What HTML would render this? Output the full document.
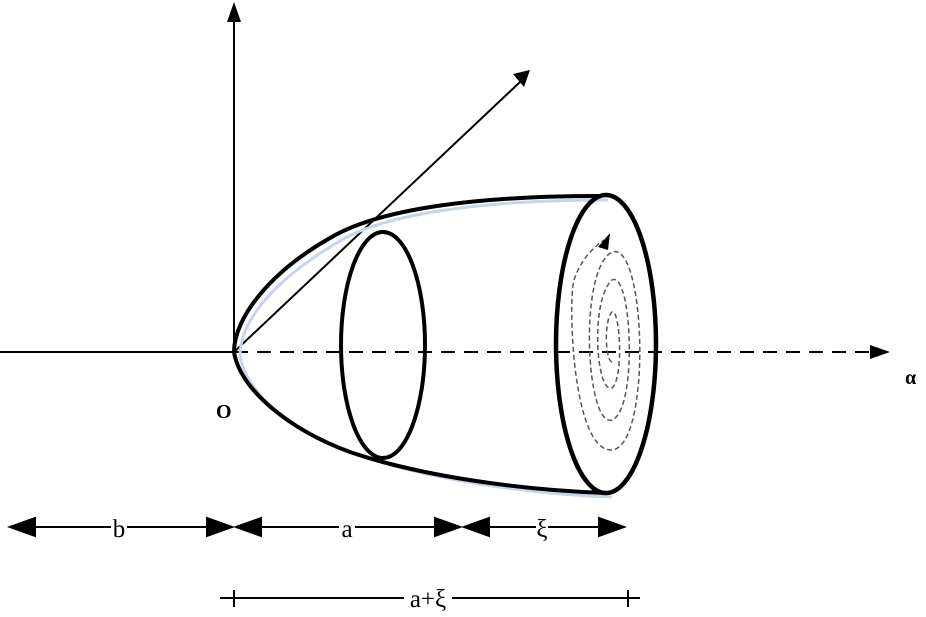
<!DOCTYPE html>
<html><head><meta charset="utf-8"><style>
html,body{margin:0;padding:0;background:#fff;width:926px;height:617px;overflow:hidden}
svg text{font-family:"Liberation Serif",serif}
</style></head><body>
<svg width="926" height="617" viewBox="0 0 926 617">
<g>
<line x1="234" y1="352" x2="234" y2="22" stroke="#000" stroke-width="2"/>
<path d="M227,22 L234,2 L241,22 Z" fill="#000"/>
</g>
<g>
<line x1="0" y1="352" x2="234" y2="352" stroke="#000" stroke-width="2"/>
<line x1="234" y1="352" x2="870" y2="352" stroke="#000" stroke-width="2" stroke-dasharray="14,9"/>
<path d="M870,345 L890,352 L870,359 Z" fill="#000"/>
</g>
<g>
<line x1="234" y1="352" x2="520" y2="82" stroke="#000" stroke-width="2"/>
<path d="M513,74 L530,70 L524,87 Z" fill="#000"/>
</g>
<path d="M608,200 C480,200 380,214 335,244 C275,280 240,320 240,356 C246,394 296,434 356,454 C426,479 526,494 612,497" fill="none" stroke="#c8d4e8" stroke-width="3"/>
<path d="M600,196 C480,196 380,208 330,238 C270,272 234,318 234,352 C240,390 290,430 350,452 C420,476 520,490 605,493" fill="none" stroke="#000" stroke-width="4"/>
<ellipse cx="383" cy="345" rx="42" ry="113" fill="none" stroke="#000" stroke-width="4"/>
<ellipse cx="606" cy="344" rx="50" ry="149" fill="none" stroke="#000" stroke-width="4.5"/>
<path d="M612,362 C605,360 604,320 612,312 C620,308 624,378 612,388 C596,394 590,300 612,280 C632,270 638,410 612,420 C586,428 578,270 612,252 C646,240 652,446 612,450 C572,452 568,300 574,280 C580,262 590,250 604,240" fill="none" stroke="#555" stroke-width="1.5" stroke-dasharray="5,3"/>
<path d="M598,247 L610,233 L608,250 Z" fill="#000"/>
<text x="216" y="418" font-size="20" font-weight="bold">O</text>
<text x="905" y="384" font-size="20" font-weight="bold">α</text>
<g stroke="#000" stroke-width="2">
<line x1="10" y1="527" x2="232" y2="527"/>
<path d="M10,527 L35,518 L35,536 Z" fill="#000"/>
<path d="M232,527 L207,518 L207,536 Z" fill="#000"/>
</g>
<g stroke="#000" stroke-width="2">
<line x1="236" y1="527" x2="460" y2="527"/>
<path d="M236,527 L261,518 L261,536 Z" fill="#000"/>
<path d="M460,527 L435,518 L435,536 Z" fill="#000"/>
</g>
<g stroke="#000" stroke-width="2">
<line x1="464" y1="527" x2="624" y2="527"/>
<path d="M464,527 L489,518 L489,536 Z" fill="#000"/>
<path d="M624,527 L599,518 L599,536 Z" fill="#000"/>
</g>
<rect x="111" y="515" width="16" height="22" fill="#fff"/>
<text x="119" y="537" font-size="25" text-anchor="middle">b</text>
<rect x="339" y="515" width="16" height="22" fill="#fff"/>
<text x="347" y="537" font-size="25" text-anchor="middle">a</text>
<rect x="536" y="515" width="12" height="28" fill="#fff"/>
<text x="542" y="537" font-size="25" text-anchor="middle">ξ</text>
<g stroke="#000" stroke-width="2">
<line x1="220" y1="598" x2="640" y2="598"/>
<line x1="234" y1="590" x2="234" y2="607"/>
<line x1="628" y1="590" x2="628" y2="607"/>
</g>
<rect x="404" y="585" width="48" height="30" fill="#fff"/>
<text x="428" y="607" font-size="25" text-anchor="middle">a+ξ</text>
</svg>
</body></html>
